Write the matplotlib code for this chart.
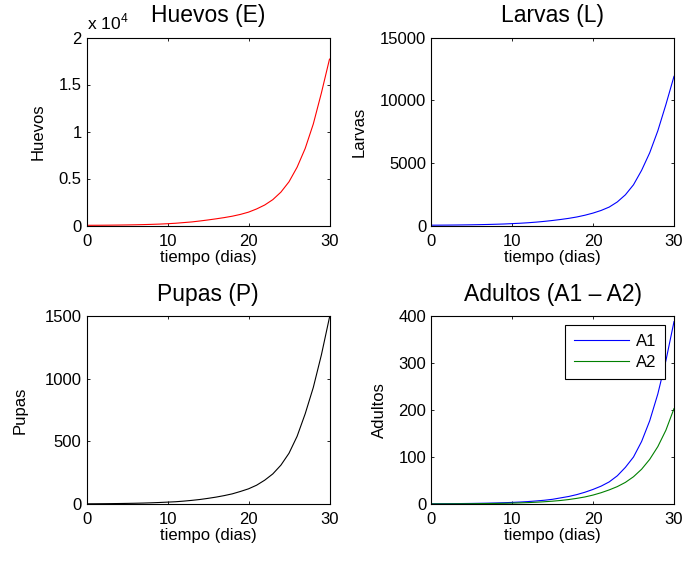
import matplotlib
matplotlib.use("Agg")
import matplotlib.pyplot as plt
from matplotlib.ticker import FuncFormatter

plt.rcParams["font.family"] = ["Liberation Sans", "DejaVu Sans"]
plt.rcParams["mathtext.fontset"] = "custom"
plt.rcParams["mathtext.rm"] = "Liberation Sans"

# tiempo en dias
dias = [0, 1, 2, 3, 4, 5, 6, 7, 8, 9, 10, 11, 12, 13, 14, 15,
        16, 17, 18, 19, 20, 21, 22, 23, 24, 25, 26, 27, 28, 29, 30]

# valores
huevos = [20, 24, 30, 38, 48, 60, 75, 95, 120, 150, 190, 240, 310, 380, 480, 590,
          710, 840, 990, 1180, 1420, 1760, 2180, 2750, 3550, 4650, 6200, 8200,
          10800, 14100, 17700]
larvas = [24, 28, 33, 39, 47, 56, 68, 82, 100, 120, 150, 180, 220, 270, 330, 400,
          480, 570, 680, 820, 990, 1200, 1470, 1880, 2450, 3250, 4400, 5800,
          7550, 9650, 11900]
pupas = [1.5, 1.9, 2.4, 3, 3.8, 4.8, 6, 7.5, 9.5, 12, 15, 18, 23, 29, 36, 45,
         55, 67, 81, 100, 121, 150, 190, 240, 310, 405, 540, 720, 930, 1190, 1490]
adultos_a1 = [0.5, 0.6, 0.7, 0.8, 1.0, 1.2, 1.5, 1.8, 2.2, 2.7, 3.4, 4.2, 5.2, 6.5,
              8, 10, 13, 16, 20, 25, 31, 38, 47, 60, 78, 100, 133, 177, 234, 305, 388]
adultos_a2 = [0.2, 0.25, 0.3, 0.4, 0.5, 0.6, 0.8, 1.0, 1.2, 1.5, 1.9, 2.4, 3.0, 3.8,
              4.8, 6, 7.5, 9.5, 12, 15, 19, 24, 30, 37, 46, 58, 74, 95, 122, 157, 203]

fig = plt.figure(figsize=(6.84, 5.62), dpi=100)

W, H = 684.0, 562.0
aw, ah = 243 / W, 188 / H
ax_e = fig.add_axes([86.5 / W, 1 - 225.5 / H, aw, ah])
ax_l = fig.add_axes([431 / W, 1 - 225.5 / H, aw, ah])
ax_p = fig.add_axes([86.5 / W, 1 - 504 / H, aw, ah])
ax_a = fig.add_axes([431 / W, 1 - 504 / H, aw, ah])


def style(ax, title, ylabel, ylim, yticks, ylab_x):
    ax.set_xlim(0, 30)
    ax.set_xticks([0, 10, 20, 30])
    ax.set_ylim(*ylim)
    ax.set_yticks(yticks)
    ax.tick_params(direction="in", top=True, right=True, length=2.5, width=0.6,
                   labelsize=12, colors="black")
    ax.tick_params(axis="x", pad=6)
    ax.tick_params(axis="y", pad=3.5)
    for s in ax.spines.values():
        s.set_linewidth(0.8)
        s.set_color("black")
    ax.set_title(title, fontsize=16.5, pad=11)
    ax.set_xlabel("tiempo (dias)", fontsize=12)
    ax.xaxis.set_label_coords(0.5, -0.128)
    ax.set_ylabel(ylabel, fontsize=12)
    ax.yaxis.set_label_coords(ylab_x, 0.5)


ax_e.plot(dias, huevos, color="red", linewidth=0.8)
style(ax_e, "Huevos (E)", "Huevos", (0, 20000), [0, 5000, 10000, 15000, 20000], -0.168)
ax_e.yaxis.set_major_formatter(FuncFormatter(lambda v, p: "%g" % (v / 1e4)))
ax_e.text(0, 1.043, "x 10$^{4}$", transform=ax_e.transAxes, fontsize=12.5,
          ha="left", va="baseline")

ax_l.plot(dias, larvas, color="blue", linewidth=0.8)
style(ax_l, "Larvas (L)", "Larvas", (0, 15000), [0, 5000, 10000, 15000], -0.263)

ax_p.plot(dias, pupas, color="black", linewidth=0.8)
style(ax_p, "Pupas (P)", "Pupas", (0, 1500), [0, 500, 1000, 1500], -0.243)

ax_a.plot(dias, adultos_a1, color="blue", linewidth=0.8, label="A1")
ax_a.plot(dias, adultos_a2, color="#008000", linewidth=0.8, label="A2")
style(ax_a, "Adultos (A1 \u2013 A2)", "Adultos", (0, 400), [0, 100, 200, 300, 400], -0.180)
leg = ax_a.legend(loc="upper right", fontsize=12, fancybox=False, framealpha=1,
                  edgecolor="black", handlelength=3.3, handletextpad=0.45,
                  borderpad=0.5, labelspacing=0.4, borderaxespad=0.55)
leg.get_frame().set_linewidth(0.8)

fig.savefig("out.png", dpi=100)
